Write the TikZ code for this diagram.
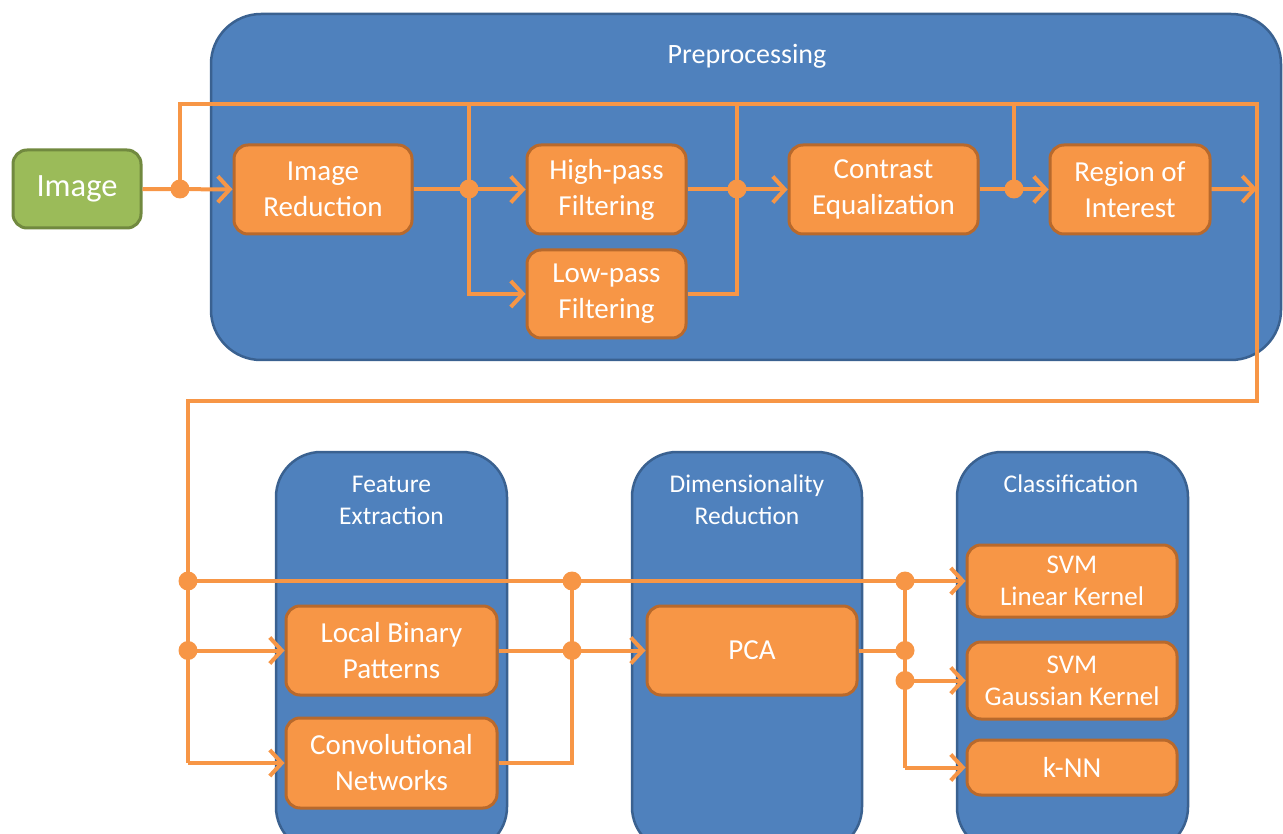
\documentclass[tikz,border=0pt]{standalone}
\usepackage{fontspec}
\setmainfont{Carlito}
\usetikzlibrary{arrows.meta}
\definecolor{blu}{HTML}{4F81BD}
\definecolor{bluD}{HTML}{3A6190}
\definecolor{org}{HTML}{F79646}
\definecolor{orgD}{HTML}{B8692C}
\definecolor{grn}{HTML}{9BBB59}
\definecolor{grnD}{HTML}{71893F}
\begin{document}
\begin{tikzpicture}[x=1pt,y=-1pt,
  panel/.style={draw=bluD, fill=blu, line width=2.5pt, rounded corners=45pt, inner sep=0pt},
  ptitle/.style={text=white, align=center, font=\fontsize{25.5}{32}\selectfont},
  proc/.style={draw=orgD, fill=org, line width=3pt, rounded corners=14pt, text=white, align=center,
               font=\fontsize{29}{36}\selectfont, inner sep=0pt},
  conn/.style={draw=org, line width=4pt},
  arr/.style={conn, -{Straight Barb[length=12pt,width=26pt,line width=4pt]}},
  dot/.style={circle, fill=org, minimum size=19pt, inner sep=0pt}
]
\useasboundingbox (0,0) rectangle (1283,834);

% panels
\node[panel, minimum width=1070pt, minimum height=346pt, rounded corners=50pt] (pre) at (746,187) {};
\node[ptitle, font=\fontsize{28}{32}\selectfont] (pret) at (747,56) {Preprocessing};
\node[panel, minimum width=231pt, minimum height=400pt] (fe) at (391.5,652) {};
\node[ptitle] (fet) at (391.5,500) {Feature\\Extraction};
\node[panel, minimum width=230pt, minimum height=400pt] (dr) at (747,652) {};
\node[ptitle] (drt) at (747,500) {Dimensionality\\Reduction};
\node[panel, minimum width=231pt, minimum height=400pt] (cl) at (1072.5,652) {};
\node[ptitle] (clt) at (1071,484) {Classification};

% nodes
\node[draw=grnD, fill=grn, line width=3pt, rounded corners=14pt, text=white,
      font=\fontsize{32.5}{36}\selectfont, minimum width=128pt, minimum height=78pt, inner sep=0pt]
      (img) at (77,189) {Image};
\node[proc, minimum width=178pt, minimum height=89pt] (red) at (323,189.5) {Image\\Reduction};
\node[proc, minimum width=159pt, minimum height=89pt] (hp) at (606.5,189.5) {High-pass\\Filtering};
\node[proc, minimum width=159pt, minimum height=88pt] (lp) at (606.5,294) {Low-pass\\Filtering};
\node[proc, minimum width=189pt, minimum height=89pt] (ce) at (883.5,189.5) {Contrast\\Equalization};
\node[proc, minimum width=160pt, minimum height=89pt] (roi) at (1130,189.5) {Region of\\Interest};

\node[proc, minimum width=211pt, minimum height=89pt] (lbp) at (391.5,650.5) {Local Binary\\Patterns};
\node[proc, minimum width=211pt, minimum height=90pt] (conv) at (391.5,763) {Convolutional\\Networks};
\node[proc, minimum width=210pt, minimum height=89pt] (pca) at (752,650.5) {PCA};
\node[proc, minimum width=210pt, minimum height=72pt, font=\fontsize{27}{32}\selectfont] (svml) at (1072,581) {SVM\\Linear Kernel};
\node[proc, minimum width=210pt, minimum height=77pt, font=\fontsize{27}{32}\selectfont] (svmg) at (1072,680.5) {SVM\\Gaussian Kernel};
\node[proc, minimum width=210pt, minimum height=55pt] (knn) at (1072,767.5) {k-NN};

% junction coordinates
\coordinate (j1) at (180,189);
\coordinate (top) at (1257,104);
\coordinate (rout) at (1257,189);
\coordinate (rb) at (1257,401);
\coordinate (lb) at (188,401);
\coordinate (j2) at (469,189);
\coordinate (j2t) at (469,104);
\coordinate (j3) at (737,189);
\coordinate (j3t) at (737,104);
\coordinate (j4) at (1014,189);
\coordinate (j4t) at (1014,104);
\coordinate (b1) at (188,581);
\coordinate (b2) at (188,650.5);
\coordinate (b3) at (188,763);
\coordinate (c1) at (572,581);
\coordinate (c2) at (572,650.5);
\coordinate (d1) at (905,581);
\coordinate (d2) at (905,650.5);
\coordinate (d3) at (905,680.5);
\coordinate (d4) at (905,767.5);

% connectors: preprocessing
\draw[arr] (img) -- (red);
\draw[conn] (j1) |- (top) -- (rb) -- (lb) -- (b3);
\draw[arr] (red) -- (hp);
\draw[arr] (j2t) |- (lp.west);
\draw[arr] (hp) -- (ce);
\draw[conn] (lp.east) -| (j3t);
\draw[arr] (ce) -- (roi);
\draw[conn] (j4t) -- (j4);
\draw[arr] (roi) -- (rout);

% connectors: lower stages
\draw[arr] (b1) -- (svml);
\draw[arr] (b2) -- (lbp);
\draw[arr] (b3) -- (conv);
\draw[arr] (lbp) -- (pca);
\draw[conn] (conv.east) -| (c1);
\draw[conn] (pca.east) -- (d2);
\draw[conn] (d1) -- (d4);
\draw[arr] (d3) -- (svmg);
\draw[arr] (d4) -- (knn);

% dots
\foreach \p in {j1,j2,j3,j4,b1,b2,c1,c2,d1,d2,d3}
  \node[dot] at (\p) {};
\end{tikzpicture}
\end{document}
